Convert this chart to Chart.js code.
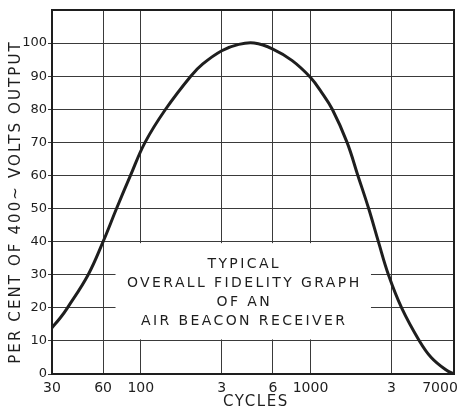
<!DOCTYPE html>
<html>
<head>
<meta charset="utf-8">
<script src="https://cdn.jsdelivr.net/npm/chart.js@4/dist/chart.umd.min.js"></script>
<style>
  body { margin: 0; background: #fff; }
  canvas { display: block; }
</style>
</head>
<body>
<canvas id="myChart" width="457" height="409"></canvas>
<script>
// curve (cycles -> per cent of 400~ output)
const cycles = [30, 33.6, 37, 49, 60, 72, 87, 106, 140, 197, 232, 300, 378, 465, 600, 780, 1000, 1159, 1343, 1641, 1900, 2200, 2510, 2877, 3441, 4380, 5140, 6300, 7000];
const percent = [14, 17, 20, 30, 40, 50, 60, 70, 80, 90, 93.7, 97.7, 99.6, 100, 98.2, 94.7, 89.6, 85.2, 80, 70, 60, 50, 40, 30, 20, 10, 5, 1.2, 0];

const xTickValues = [30, 60, 100, 300, 600, 1000, 3000, 7000];
const xTickLabels = ["30", "60", "100", "3", "6", "1000", "3", "7000"];
const yTickValues = [0, 10, 20, 30, 40, 50, 60, 70, 80, 90, 100];

const yTitle = "PER CENT OF 400~ VOLTS OUTPUT";
const xTitle = "CYCLES";
const noteLines = ["TYPICAL", "OVERALL FIDELITY GRAPH", "OF AN", "AIR BEACON RECEIVER"];
// note box, in data units (cycles, per cent)
const noteBoxX = [71, 2270];
const noteBoxY = [10, 40];

const ink = "#1e1e1e";

/* box with the note, frame and titles */
const figurePlugin = {
  id: "figure",
  beforeDatasetsDraw(chart) {
    const { ctx, scales: { x, y } } = chart;
    const l = x.getPixelForValue(noteBoxX[0]);
    const r = x.getPixelForValue(noteBoxX[1]);
    const t = y.getPixelForValue(noteBoxY[1]) + 1.5;
    const b = y.getPixelForValue(noteBoxY[0]) - 1.5;
    ctx.save();
    ctx.fillStyle = "#fff";
    ctx.fillRect(l, t, r - l, b - t);
    ctx.fillStyle = ink;
    ctx.font = '14px "DejaVu Sans"';
    ctx.letterSpacing = "2.4px";
    ctx.textAlign = "center";
    ctx.textBaseline = "middle";
    const cx = (l + r) / 2 + 1;
    const cy = (t + b) / 2 + 1.5;
    noteLines.forEach((line, i) => {
      ctx.fillText(line, cx, cy + (i - 1.5) * 19);
    });
    ctx.restore();
  },
  afterDatasetsDraw(chart) {
    const { ctx, chartArea: a } = chart;
    ctx.save();
    ctx.strokeStyle = ink;
    ctx.lineWidth = 2;
    ctx.strokeRect(a.left, a.top, a.right - a.left, a.bottom - a.top);
    ctx.restore();
  },
  afterDraw(chart) {
    const { ctx } = chart;
    ctx.save();
    ctx.fillStyle = ink;
    ctx.font = '15px "DejaVu Sans"';
    ctx.textAlign = "center";
    ctx.textBaseline = "middle";
    ctx.letterSpacing = "1.6px";
    ctx.fillText(xTitle, 256, 402);
    ctx.letterSpacing = "2.1px";
    ctx.translate(16, 202);
    ctx.rotate(-Math.PI / 2);
    ctx.fillText(yTitle, 0, 0);
    ctx.restore();
  }
};

const points = cycles.map((c, i) => ({ x: c, y: percent[i] }));

const config = {
  type: "line",
  data: {
    datasets: [{
      data: points,
      borderColor: ink,
      borderWidth: 3,
      pointRadius: 0,
      fill: false,
      tension: 0.4
    }]
  },
  options: {
    responsive: false,
    animation: false,
    layout: { padding: { top: 10, right: 3, left: 0, bottom: 0 } },
    plugins: { legend: { display: false }, tooltip: { enabled: false } },
    scales: {
      x: {
        type: "logarithmic",
        min: 30,
        max: 7000,
        afterBuildTicks: (scale) => {
          scale.ticks = xTickValues.map(v => ({ value: v }));
        },
        afterFit: (scale) => {
          scale.height = 35;
          scale.paddingLeft = 0;
          scale.paddingRight = 0;
        },
        ticks: {
          autoSkip: false,
          maxRotation: 0,
          padding: 6,
          color: ink,
          font: { family: "DejaVu Sans", size: 14 },
          callback: (value, index) => {
            const label = xTickLabels[index];
            return index === xTickLabels.length - 1 ? label + "\u2003\u2003" : label;
          }
        },
        grid: { color: "#3a3a3a", lineWidth: 1, drawTicks: false },
        border: { display: false }
      },
      y: {
        min: 0,
        max: 110,
        afterBuildTicks: (scale) => {
          scale.ticks = yTickValues.map(v => ({ value: v }));
        },
        afterFit: (scale) => {
          scale.width = 52;
          scale.paddingTop = 0;
          scale.paddingBottom = 0;
        },
        ticks: {
          padding: 1,
          color: ink,
          font: { family: "DejaVu Sans", size: 13 }
        },
        grid: { color: "#3a3a3a", lineWidth: 1, tickLength: 4 },
        border: { display: false }
      }
    }
  },
  plugins: [figurePlugin]
};

const ctx = document.getElementById("myChart").getContext("2d");
const myChart = new Chart(ctx, config);
</script>
</body>
</html>
